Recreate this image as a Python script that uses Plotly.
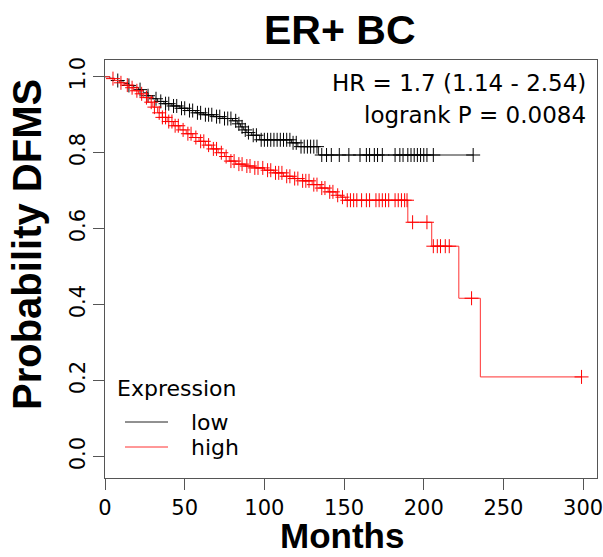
import numpy as np
import plotly.graph_objects as go

# ---- data (months, survival probability) ----
low_event_times = [3, 6, 9, 12, 15, 18, 21, 24, 27, 30, 33, 37, 42, 47, 52, 57, 62, 68, 74, 80,
                   83, 85, 87, 89, 92, 97, 117, 121, 134]
low_surv = [0.996, 0.990, 0.986, 0.982, 0.977, 0.972, 0.966, 0.958, 0.950, 0.942, 0.935, 0.929,
            0.923, 0.917, 0.911, 0.905, 0.900, 0.895, 0.890, 0.884, 0.876, 0.868, 0.860, 0.853,
            0.846, 0.834, 0.826, 0.816, 0.794]
low_censor = [8, 15, 22, 27, 32, 35, 38, 40, 43, 45, 48, 50, 53, 55, 58, 60, 63, 65, 67, 70, 72,
              75, 77, 79, 82, 84, 86, 88, 90, 93, 95, 98, 100, 102, 104, 106, 108, 110, 112, 114,
              116, 118, 120, 123, 125, 127, 129, 131, 133,
              136, 139, 142, 147, 153, 160, 164, 166, 169, 171, 174, 182, 185, 187, 190, 192,
              194, 196, 198, 200, 202, 206, 231]

high_event_times = [3, 6, 9, 12, 15, 18, 21, 24, 27, 30, 33, 36, 39, 43, 47, 51, 55, 59, 63, 67,
                    71, 75, 78, 82, 88, 94, 100, 106, 112, 118, 124, 130, 135, 140, 145, 148, 151,
                    190, 205, 222, 235.5]
high_surv = [0.995, 0.990, 0.984, 0.978, 0.971, 0.963, 0.955, 0.945, 0.933, 0.920, 0.905, 0.893,
             0.882, 0.871, 0.860, 0.850, 0.840, 0.830, 0.820, 0.810, 0.800, 0.790, 0.778, 0.770,
             0.765, 0.760, 0.754, 0.747, 0.738, 0.732, 0.726, 0.716, 0.707, 0.697, 0.688, 0.683,
             0.675, 0.617, 0.554, 0.417, 0.210]
high_censor = [5, 10, 14, 17, 20, 23, 26, 29, 31, 34, 36, 38, 40, 42, 44, 46, 49, 52, 54, 57, 60,
               62, 65, 68, 70, 73, 76, 79, 81, 84, 86, 89, 91, 94, 96, 99, 102, 104, 107, 109, 111,
               114, 116, 119, 121, 124, 126, 128, 131, 133, 136, 138, 141, 143, 146, 149,
               152, 154, 156, 158, 161, 164, 166, 170, 172, 174, 176, 178, 182, 184, 186, 188,
               189.5, 193, 202, 206, 208.5, 210.5, 213.5, 216, 230, 299]

groups = ["low", "high"]
group_colors = {"low": "black", "high": "red"}
line_colors = {"low": "#222222", "high": "#ff3030"}
x_ticks = [0, 50, 100, 150, 200, 250, 300]
y_ticks = [0.0, 0.2, 0.4, 0.6, 0.8, 1.0]
y_tick_labels = ["0.0", "0.2", "0.4", "0.6", "0.8", "1.0"]

title_text = "ER+ BC"
x_title = "Months"
y_title = "Probability DFMS"
hr_text = "HR = 1.7 (1.14 - 2.54)"
p_text = "logrank P = 0.0084"
legend_title = "Expression"


def step_curve(times, surv, end):
    x = [0] + list(times) + [end]
    y = [1.0] + list(surv) + [surv[-1]]
    return x, y


def surv_at(times, surv, t):
    idx = np.searchsorted(np.array(times), np.array(t), side="right") - 1
    s = np.array([1.0] + list(surv))
    return s[idx + 1]


data = {
    "low": (low_event_times, low_surv, low_censor),
    "high": (high_event_times, high_surv, high_censor),
}

fig = go.Figure()
for g in groups:
    times, surv, cens = data[g]
    end = max(max(cens), max(times))
    x, y = step_curve(times, surv, end)
    fig.add_trace(go.Scatter(x=x, y=y, mode="lines",
                             line=dict(color=line_colors[g], width=1, shape="hv"),
                             name=g, legendgroup=g, showlegend=False))
    col = group_colors[g]
    fig.add_trace(go.Scatter(x=cens, y=surv_at(times, surv, cens), mode="markers",
                             marker=dict(symbol="cross-thin-open", size=10,
                                         line=dict(color=col, width=1), color=col),
                             name=g, legendgroup=g, showlegend=False))

# plot-area geometry (pixels)
L, R, T, B = 105, 6, 60, 79
W, H = 603, 557
PW, PH = W - L - R, H - T - B


def px(xp):
    return (xp - L) / PW


def py(yp):
    return (H - B - yp) / PH


tick_font = dict(family="DejaVu Sans", size=21, color="black")
axis_common = dict(showline=True, mirror=True, linecolor="#555", linewidth=1,
                   ticks="outside", ticklen=11, tickcolor="#555", tickwidth=1,
                   showgrid=False, zeroline=False, tickfont=tick_font, automargin=False,
                   ticklabeloverflow="allow")

bold = dict(family="Liberation Sans, Arial", color="black", weight="bold")

fig.update_layout(
    width=W, height=H,
    margin=dict(l=L, r=R, t=T, b=B),
    paper_bgcolor="white", plot_bgcolor="white",
    xaxis=dict(range=[0, 308.7], tickvals=x_ticks, ticktext=[str(v) for v in x_ticks],
               **axis_common),
    yaxis=dict(range=[-0.056, 1.044], tickvals=y_ticks, ticktext=y_tick_labels, tickangle=-90,
               **axis_common),
    showlegend=False,
)

# titles
fig.add_annotation(text=title_text, xref="paper", yref="paper", x=px(340), y=py(30),
                   xanchor="center", yanchor="middle", showarrow=False, font=dict(size=41, **bold))
fig.add_annotation(text=x_title, xref="paper", yref="paper", x=px(342), y=py(535),
                   xanchor="center", yanchor="middle", showarrow=False, borderpad=0,
                   font=dict(size=35, **bold))
fig.add_annotation(text=y_title, xref="paper", yref="paper", x=px(27), y=py(245),
                   xanchor="center", yanchor="middle", showarrow=False, textangle=-90,
                   font=dict(size=40, **bold))

# statistics text
fig.add_annotation(text=hr_text, xref="paper", yref="paper", x=px(588), y=py(83),
                   xanchor="right", yanchor="middle", showarrow=False,
                   font=dict(family="DejaVu Sans", size=23, color="black"))
fig.add_annotation(text=p_text, xref="paper", yref="paper", x=px(588), y=py(115),
                   xanchor="right", yanchor="middle", showarrow=False,
                   font=dict(family="DejaVu Sans", size=23, color="black"))

# legend (drawn as in the reference: title, line keys, labels)
leg_font = dict(family="DejaVu Sans", size=22, color="black")
fig.add_annotation(text=legend_title, xref="paper", yref="paper", x=px(115), y=py(388),
                   xanchor="left", yanchor="middle", showarrow=False, font=leg_font)
for i, g in enumerate(groups):
    yy = 422 + 25 * i
    fig.add_shape(type="line", xref="paper", yref="paper", x0=px(125), x1=px(168),
                  y0=py(yy), y1=py(yy), line=dict(color=line_colors[g], width=1))
    fig.add_annotation(text=g, xref="paper", yref="paper", x=px(189), y=py(yy),
                       xanchor="left", yanchor="middle", showarrow=False, font=leg_font)

fig.write_html("out.html", config={"displayModeBar": False},
               post_script="document.body.style.margin='0px';document.body.style.padding='0px';")
